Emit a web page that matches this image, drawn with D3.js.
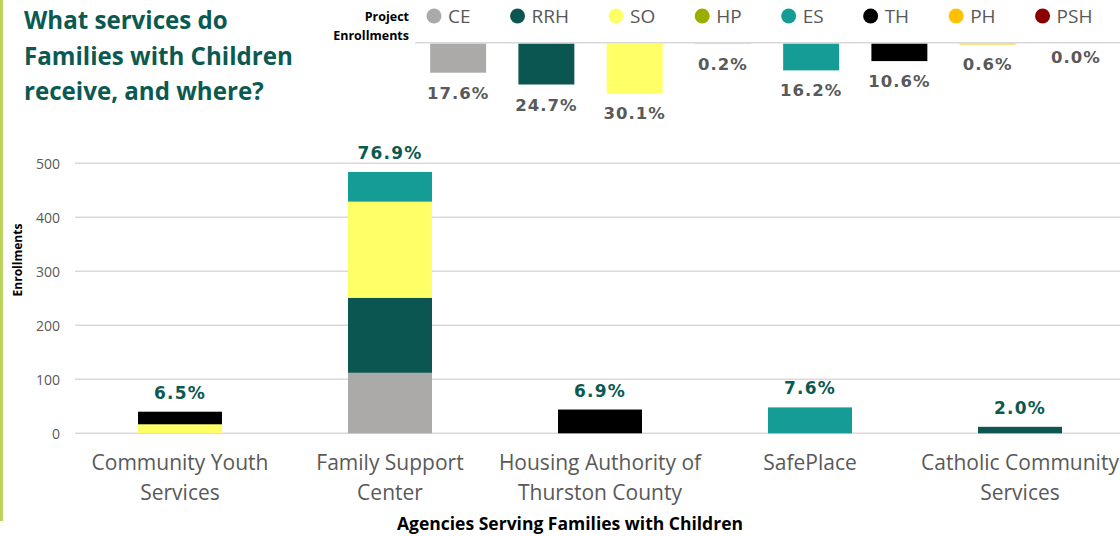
<!DOCTYPE html>
<html>
<head>
<meta charset="utf-8">
<script src="https://cdn.jsdelivr.net/npm/d3@7"></script>
<style>
  html, body { margin: 0; padding: 0; background: #fff; }
  svg { display: block; }
</style>
</head>
<body>
<svg id="chart" width="1120" height="536"></svg>
<script>
// ---------------- DATA ----------------
const categories = [
  ["Community Youth", "Services"],
  ["Family Support", "Center"],
  ["Housing Authority of", "Thurston County"],
  ["SafePlace"],
  ["Catholic Community", "Services"]
];
const seriesKeys = ["CE", "RRH", "SO", "HP", "ES", "TH", "PH", "PSH"];
const CE  = [0, 112, 0, 0, 0];
const RRH = [0, 139, 0, 0, 12];
const SO  = [16, 178, 0, 0, 0];
const HP  = [1, 0, 0, 0, 0];
const ES  = [0, 55, 0, 48, 0];
const TH  = [23, 0, 44, 0, 0];
const PH  = [0, 0, 0, 0, 0];
const PSH = [0, 0, 0, 0, 0];
const agencyShareLabels = ["6.5%", "76.9%", "6.9%", "7.6%", "2.0%"];
const projectShares = [17.6, 24.7, 30.1, 0.2, 16.2, 10.6, 0.6, 0.0];
const yTicks = [0, 100, 200, 300, 400, 500];
const titleLines = ["What services do", "Families with Children", "receive, and where?"];

const colors = {
  CE: "#ABAAA8", RRH: "#0C5651", SO: "#FFFF66", HP: "#9BAE00",
  ES: "#169C97", TH: "#000000", PH: "#FFC000", PSH: "#880000"
};

// ---------------- BUILD ----------------
const seriesValues = { CE, RRH, SO, HP, ES, TH, PH, PSH };
const table = categories.map((c, i) => {
  const row = { idx: i };
  seriesKeys.forEach(k => row[k] = seriesValues[k][i]);
  return row;
});
const stacked = d3.stack().keys(seriesKeys)(table);

const svg = d3.select("#chart");
const FONT = "'Open Sans', 'Noto Sans', sans-serif";
const GRAY = "#595959";
const TEAL = "#0B5A51";

// left accent line
svg.append("rect").attr("x", 0).attr("y", 0).attr("width", 3).attr("height", 521)
  .attr("fill", "#BCD35E");

// title
const title = svg.append("g");
titleLines.forEach((t, i) => {
  title.append("text").attr("x", 24).attr("y", 29 + i * 35.5)
    .attr("font-family", FONT).attr("font-weight", 700).attr("font-size", 24)
    .attr("fill", TEAL).text(t);
});
{
  const n = title.selectAll("text").nodes()[1];
  const w = n.getComputedTextLength();
  const fs = 24 * 269 / w;
  title.selectAll("text").attr("font-size", fs);
}

// ---------- main chart ----------
const x = d3.scaleBand().domain(d3.range(categories.length))
  .range([75, 1125]).paddingInner(0.6).paddingOuter(0.3);
const y = d3.scaleLinear().domain([0, 500]).range([433.3, 163.3]);

// gridlines
svg.append("g").selectAll("line").data(yTicks).join("line")
  .attr("x1", 75).attr("x2", 1120)
  .attr("y1", d => y(d)).attr("y2", d => y(d))
  .attr("stroke", "#D9D9D9").attr("stroke-width", 1.5);

// y axis labels
const yAxis = d3.axisLeft(y).tickValues(yTicks).tickSize(0).tickPadding(0);
const yg = svg.append("g").attr("transform", "translate(60,0)").call(yAxis);
yg.select(".domain").remove();
yg.selectAll("text").attr("font-family", FONT).attr("font-size", 14)
  .attr("fill", GRAY).attr("dy", "0.35em");

// y title
svg.append("text").attr("transform", "translate(22,260) rotate(-90)")
  .attr("text-anchor", "middle").attr("font-family", FONT)
  .attr("font-weight", 700).attr("font-size", 12).attr("fill", "#000")
  .text("Enrollments");

// bars
svg.append("g").selectAll("g").data(stacked).join("g")
  .attr("fill", d => colors[d.key])
  .selectAll("rect").data(d => d).join("rect")
  .attr("x", (d, i) => x(i))
  .attr("width", x.bandwidth())
  .attr("y", d => y(d[1]))
  .attr("height", d => Math.max(0, y(d[0]) - y(d[1])));

// totals labels
const totals = table.map(r => d3.sum(seriesKeys, k => r[k]));
svg.append("g").selectAll("text").data(agencyShareLabels).join("text")
  .attr("x", (d, i) => x(i) + x.bandwidth() / 2)
  .attr("y", (d, i) => y(totals[i]) - 13)
  .attr("text-anchor", "middle")
  .attr("font-family", "'DejaVu Sans', sans-serif").attr("font-weight", 700)
  .attr("font-size", 17).attr("letter-spacing", 1.2)
  .attr("fill", TEAL).text(d => d);

// x axis labels
const xl = svg.append("g");
categories.forEach((lines, i) => {
  lines.forEach((t, j) => {
    xl.append("text").attr("x", x(i) + x.bandwidth() / 2).attr("y", 470 + j * 30)
      .attr("text-anchor", "middle").attr("font-family", FONT)
      .attr("font-size", 21).attr("fill", GRAY).text(t);
  });
});

// x title
svg.append("text").attr("x", 570).attr("y", 530).attr("text-anchor", "middle")
  .attr("font-family", FONT).attr("font-weight", 700).attr("font-size", 17.5)
  .attr("fill", "#000").text("Agencies Serving Families with Children");

// ---------- legend / project mini bars ----------
svg.append("text").attr("x", 409).attr("y", 21).attr("text-anchor", "end")
  .attr("font-family", FONT).attr("font-weight", 700).attr("font-size", 12.5)
  .attr("fill", "#000").text("Project");
svg.append("text").attr("x", 409).attr("y", 40).attr("text-anchor", "end")
  .attr("font-family", FONT).attr("font-weight", 700).attr("font-size", 12.5)
  .attr("fill", "#000").text("Enrollments");

const lg = svg.append("g");
let lx = 434;
seriesKeys.forEach(k => {
  lg.append("circle").attr("cx", lx).attr("cy", 16).attr("r", 7.5).attr("fill", colors[k]);
  const t = lg.append("text").attr("x", lx + 14).attr("y", 22.5)
    .attr("font-family", FONT).attr("font-size", 19).attr("fill", GRAY).text(k);
  lx += 14 + t.node().getComputedTextLength() + 47;
});

// mini bars
const mx = d3.scaleBand().domain(seriesKeys).range([414, 1120])
  .paddingInner(0.366).paddingOuter(0.183);
const my = d3.scaleLinear().domain([0, 100]).range([0, 166]);
const base = 43.5;
svg.append("g").selectAll("rect").data(projectShares).join("rect")
  .attr("x", (d, i) => mx(seriesKeys[i]))
  .attr("width", mx.bandwidth())
  .attr("y", base)
  .attr("height", d => my(d))
  .attr("fill", (d, i) => colors[seriesKeys[i]]);
svg.append("line").attr("x1", 415).attr("x2", 1120).attr("y1", 42.7).attr("y2", 42.7)
  .attr("stroke", "#D9D9D9").attr("stroke-width", 1.5);
svg.append("g").selectAll("text").data(projectShares).join("text")
  .attr("x", (d, i) => mx(seriesKeys[i]) + mx.bandwidth() / 2)
  .attr("y", d => base + my(d) + (d > 0 ? 26 : 19))
  .attr("text-anchor", "middle")
  .attr("font-family", "'DejaVu Sans', sans-serif").attr("font-weight", 700)
  .attr("font-size", 16.5).attr("letter-spacing", 1)
  .attr("fill", GRAY).text(d => d.toFixed(1) + "%");
</script>
</body>
</html>
